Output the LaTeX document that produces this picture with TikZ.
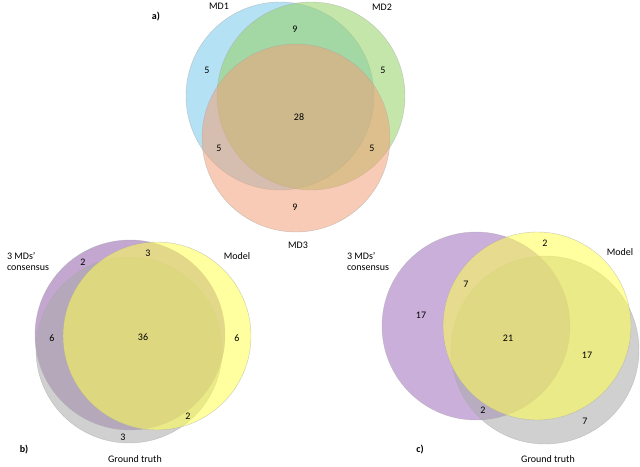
\documentclass[tikz,border=0pt]{standalone}
\usepackage{fontspec}
\setmainfont{Carlito}
\begin{document}
\begin{tikzpicture}[x=1pt,y=-1pt,
  ven/.style={draw=gray!70,fill opacity=0.55,draw opacity=0.6},
  lab/.style={font=\fontsize{10}{11}\selectfont},
  ttl/.style={font=\bfseries\fontsize{10}{11}\selectfont}]
\useasboundingbox (0,0) rectangle (640,466);
% panel a
\fill[ven,fill={rgb,255:red,120;green,200;blue,235}] (280,96) circle (94);
\fill[ven,fill={rgb,255:red,150;green,210;blue,100}] (311,96) circle (94);
\fill[ven,fill={rgb,255:red,240;green,160;blue,120}] (296,138) circle (94);
\node[ttl] (ta) at (156,17) {a)};
\node[lab] (m1) at (219,6) {MD1};
\node[lab] (m2) at (382,7) {MD2};
\node[lab] (m3) at (298,245) {MD3};
\node[lab] (a1) at (295,29) {9};
\node[lab] (a2) at (207,70) {5};
\node[lab] (a3) at (383,70) {5};
\node[lab] (a4) at (299,117) {28};
\node[lab] (a5) at (219,148) {5};
\node[lab] (a6) at (372,148) {5};
\node[lab] (a7) at (295,207) {9};
% panel b
\fill[ven,fill={rgb,255:red,145;green,95;blue,170}] (130,335) circle (95);
\fill[ven,fill={rgb,255:red,170;green,170;blue,170}] (129,350) circle (93);
\fill[ven,fill={rgb,255:red,255;green,255;blue,80}] (157,336) circle (94);
\node[ttl] (tb) at (24,450) {b)};
\node[lab,align=left] (cb) at (28,262) {3 MDs'\\consensus};
\node[lab] (mb) at (237,256) {Model};
\node[lab] (gb) at (135,459) {Ground truth};
\node[lab] (b1) at (83,262) {2};
\node[lab] (b2) at (148,253) {3};
\node[lab] (b3) at (52,338) {6};
\node[lab] (b4) at (143,337) {36};
\node[lab] (b5) at (237,338) {6};
\node[lab] (b6) at (188,416) {2};
\node[lab] (b7) at (123,437) {3};
% panel c
\fill[ven,fill={rgb,255:red,160;green,110;blue,190}] (476,326) circle (94);
\fill[ven,fill={rgb,255:red,170;green,170;blue,170}] (545,350) circle (94);
\fill[ven,fill={rgb,255:red,255;green,255;blue,80}] (537,326) circle (94);
\node[ttl] (tc) at (420,450) {c)};
\node[lab,align=left] (cc) at (368,262) {3 MDs'\\consensus};
\node[lab] (mc) at (620,252) {Model};
\node[lab] (gc) at (548,459) {Ground truth};
\node[lab] (c1) at (545,243) {2};
\node[lab] (c2) at (466,284) {7};
\node[lab] (c3) at (421,315) {17};
\node[lab] (c4) at (508,338) {21};
\node[lab] (c5) at (587,355) {17};
\node[lab] (c6) at (483,410) {2};
\node[lab] (c7) at (585,421) {7};
\end{tikzpicture}
\end{document}
